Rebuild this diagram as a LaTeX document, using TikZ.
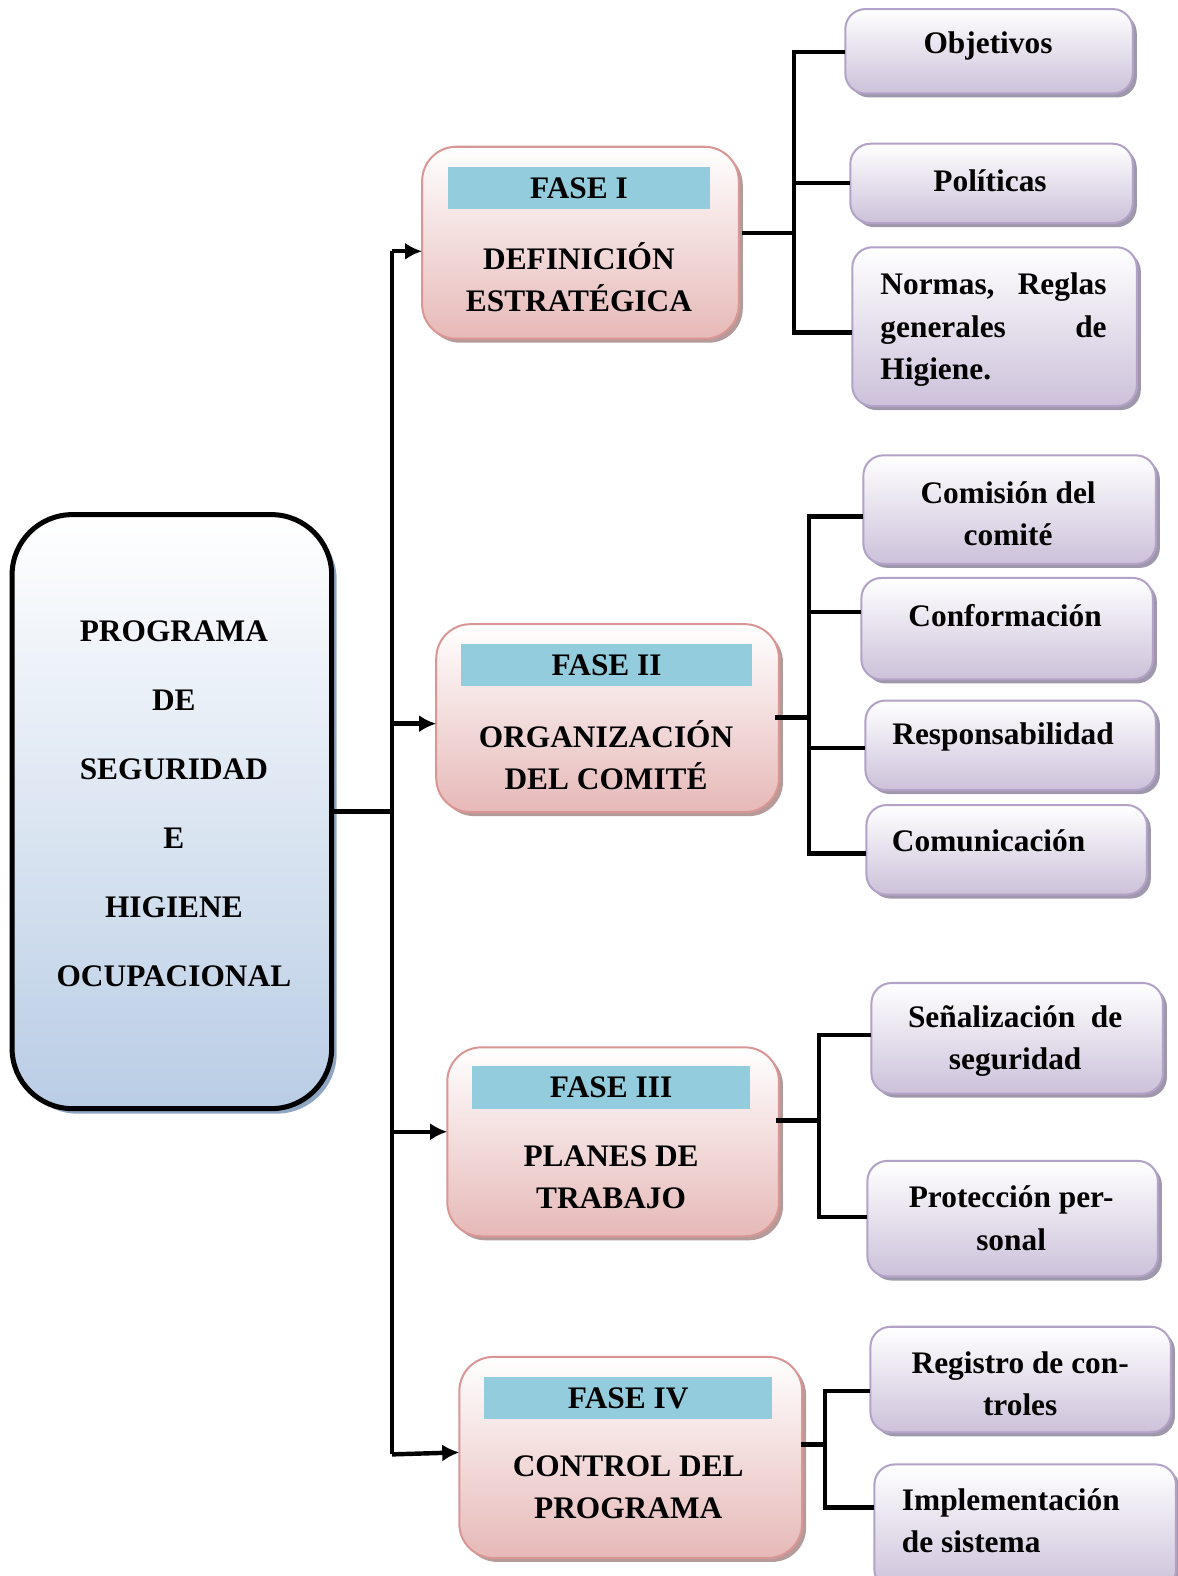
\documentclass[tikz,border=0pt]{standalone}
\usepackage{fontspec}
\setmainfont{Liberation Serif}
\usetikzlibrary{shadows,calc,arrows.meta}

\definecolor{mainblue}{HTML}{B9CDE5}
\definecolor{mainshadow}{HTML}{8FA6C3}
\definecolor{phaseline}{HTML}{D99694}
\definecolor{phasemid}{HTML}{F4E0DF}
\definecolor{phasefill}{HTML}{E6B9B8}
\definecolor{phaseshadow}{HTML}{B59A9A}
\definecolor{barfill}{HTML}{93CDDD}
\definecolor{itemline}{HTML}{B3A2C7}
\definecolor{itemfill}{HTML}{CCC1DA}
\definecolor{itemshadow}{HTML}{9F98AC}

\newcommand\txtfont{\fontsize{15.6}{21}\selectfont\bfseries}

\begin{document}
\begin{tikzpicture}[x=0.5pt,y=-0.5pt,
  mainbox/.style={anchor=north west, draw=black, line width=2.5pt,
    rounded corners=30pt, top color=white, bottom color=mainblue,
    inner sep=0pt, outer sep=0pt,
    drop shadow={shadow xshift=2.5pt, shadow yshift=-2.5pt, fill=mainshadow, opacity=1}},
  phasebox/.style={anchor=north west, draw=phaseline, line width=1pt,
    rounded corners=17pt, top color=white, middle color=phasemid, bottom color=phasefill,
    inner sep=0pt, outer sep=0pt,
    drop shadow={shadow xshift=2pt, shadow yshift=-2pt, fill=phaseshadow, opacity=1}},
  itembox/.style={anchor=north west, draw=itemline, line width=1pt,
    rounded corners=10pt, top color=white, bottom color=itemfill,
    inner sep=0pt, outer sep=0pt,
    drop shadow={shadow xshift=2pt, shadow yshift=-2pt, fill=itemshadow, opacity=1}},
  phasebar/.style={fill=barfill, inner sep=0pt, font=\txtfont, minimum height=21pt},
  lbl/.style={font=\txtfont, align=center, inner sep=0pt},
  conn/.style={line width=2.2pt, draw=black},
  arr/.style={line width=2.2pt, draw=black, -{Latex[length=8.5pt,width=8.5pt]}}
]
\useasboundingbox (0,0) rectangle (1172,1568);

% ---------- main program box ----------
\node[mainbox, minimum width=159pt, minimum height=295.5pt] (main) at (12,512) {};
\node[lbl, font=\fontsize{15.6}{34.3}\selectfont\bfseries] (tmain) at (173,800)
  {PROGRAMA\\DE\\SEGURIDAD\\E\\HIGIENE\\OCUPACIONAL};

% ---------- phases ----------
\node[phasebox, minimum width=157.5pt, minimum height=95.5pt] (f1) at (420,146) {};
\node[phasebar, minimum width=130pt] (b1) at (576,187) {FASE I};
\node[lbl] (t1) at (576,276) {DEFINICIÓN\\ESTRATÉGICA};

\node[phasebox, minimum width=170.5pt, minimum height=93.5pt] (f2) at (434,621) {};
\node[phasebar, minimum width=144.5pt] (b2) at (603.5,662) {FASE II};
\node[lbl] (t2) at (603,751) {ORGANIZACIÓN\\DEL COMITÉ};

\node[phasebox, minimum width=165pt, minimum height=94pt] (f3) at (445,1042) {};
\node[phasebar, minimum width=138pt] (b3) at (608,1082) {FASE III};
\node[lbl] (t3) at (608,1171) {PLANES DE\\TRABAJO};

\node[phasebox, minimum width=170.5pt, minimum height=100pt] (f4) at (457,1350) {};
\node[phasebar, minimum width=143pt] (b4) at (625,1391) {FASE IV};
\node[lbl] (t4) at (625,1480) {CONTROL DEL\\PROGRAMA};

% ---------- items of phase I ----------
\node[itembox, minimum width=143pt, minimum height=42pt] (obj) at (841,9) {};
\node[lbl] (tobj) at (983,46) {Objetivos};
\node[itembox, minimum width=140.5pt, minimum height=39.5pt] (pol) at (846,143) {};
\node[lbl] (tpol) at (985,180) {Políticas};
\node[itembox, minimum width=141.5pt, minimum height=79pt] (nor) at (848,246) {};
\node[lbl, align=left, text width=112.5pt] (tnor) at (988.5,328)
  {Normas,\hfill Reglas\\generales\hfill de\\Higiene.};

% ---------- items of phase II ----------
\node[itembox, minimum width=145.5pt, minimum height=54pt] (com) at (859,453) {};
\node[lbl] (tcom) at (1003,511) {Comisión del\\comité};
\node[itembox, minimum width=145pt, minimum height=50.5pt] (conf) at (857,575) {};
\node[lbl] (tconf) at (1000,612) {Conformación};
\node[itembox, minimum width=144.5pt, minimum height=44.5pt] (resp) at (861,697) {};
\node[lbl] (tresp) at (998,733) {Responsabilidad};
\node[itembox, minimum width=139.5pt, minimum height=44.5pt] (comu) at (862,801) {};
\node[lbl, anchor=west] (tcomu) at (887,837) {Comunicación};

% ---------- items of phase III ----------
\node[itembox, minimum width=145pt, minimum height=55pt] (sen) at (867,978) {};
\node[lbl] (tsen) at (1010,1036) {Señalización\ \ de\\seguridad};
\node[itembox, minimum width=144.5pt, minimum height=57.5pt] (prot) at (863,1155) {};
\node[lbl] (tprot) at (1006,1212) {Protección per-\\sonal};

% ---------- items of phase IV ----------
\node[itembox, minimum width=149.5pt, minimum height=52.5pt] (reg) at (866,1320) {};
\node[lbl] (treg) at (1015,1377) {Registro de con-\\troles};
\node[itembox, minimum width=150pt, minimum height=62.5pt] (imp) at (870,1457) {};
\node[lbl, align=left, anchor=west] (timp) at (897,1513) {Implementación\\de sistema};

% ---------- trunk from main box to the phases ----------
\coordinate (k1) at (390,250);
\coordinate (k2) at (390,720);
\coordinate (k3) at (390,1126);
\coordinate (k4) at (390,1447);
\draw[conn] (k1) -- (k4);
\draw[conn] (main.east) -- (main.east -| k1);
\draw[arr] (k1) -- (k1 -| f1.west);
\draw[arr] (k2) -- (k2 -| f2.west);
\draw[arr] (k3) -- (k3 -| f3.west);
\draw[arr] (k4) -- ($(f4.west)+(0,-5)$);

% ---------- phase I branches ----------
\coordinate (j1) at (790,232);
\coordinate (a1) at (790,52);
\coordinate (a2) at (790,182);
\coordinate (a3) at (790,331);
\draw[conn] ($(f1.east|-j1)+(3,0)$) -- (j1);
\draw[conn] (a1 -| obj.west) -- (a1) -- (a3) -- (a3 -| nor.west);
\draw[conn] (a2) -- (a2 -| pol.west);

% ---------- phase II branches ----------
\coordinate (j2) at (805,714);
\coordinate (c1) at (805,514);
\coordinate (c2) at (805,609);
\coordinate (c3) at (805,744);
\coordinate (c4) at (805,849);
\draw[conn] ($(f2.east|-j2)+(-4,0)$) -- (j2);
\draw[conn] (c1 -| com.west) -- (c1) -- (c4) -- (c4 -| comu.west);
\draw[conn] (c2) -- (c2 -| conf.west);
\draw[conn] (c3) -- (c3 -| resp.west);

% ---------- phase III branches ----------
\coordinate (j3) at (815,1115);
\coordinate (d1) at (815,1030);
\coordinate (d2) at (815,1211);
\draw[conn] ($(f3.east|-j3)+(-3,0)$) -- (j3);
\draw[conn] (d1 -| sen.west) -- (d1) -- (d2) -- (d2 -| prot.west);

% ---------- phase IV branches ----------
\coordinate (j4) at (821,1437);
\coordinate (e1) at (821,1384);
\coordinate (e2) at (821,1500);
\draw[conn] ($(f4.east|-j4)+(-1,0)$) -- (j4);
\draw[conn] (e1 -| reg.west) -- (e1) -- (e2) -- (e2 -| imp.west);
\end{tikzpicture}
\end{document}
